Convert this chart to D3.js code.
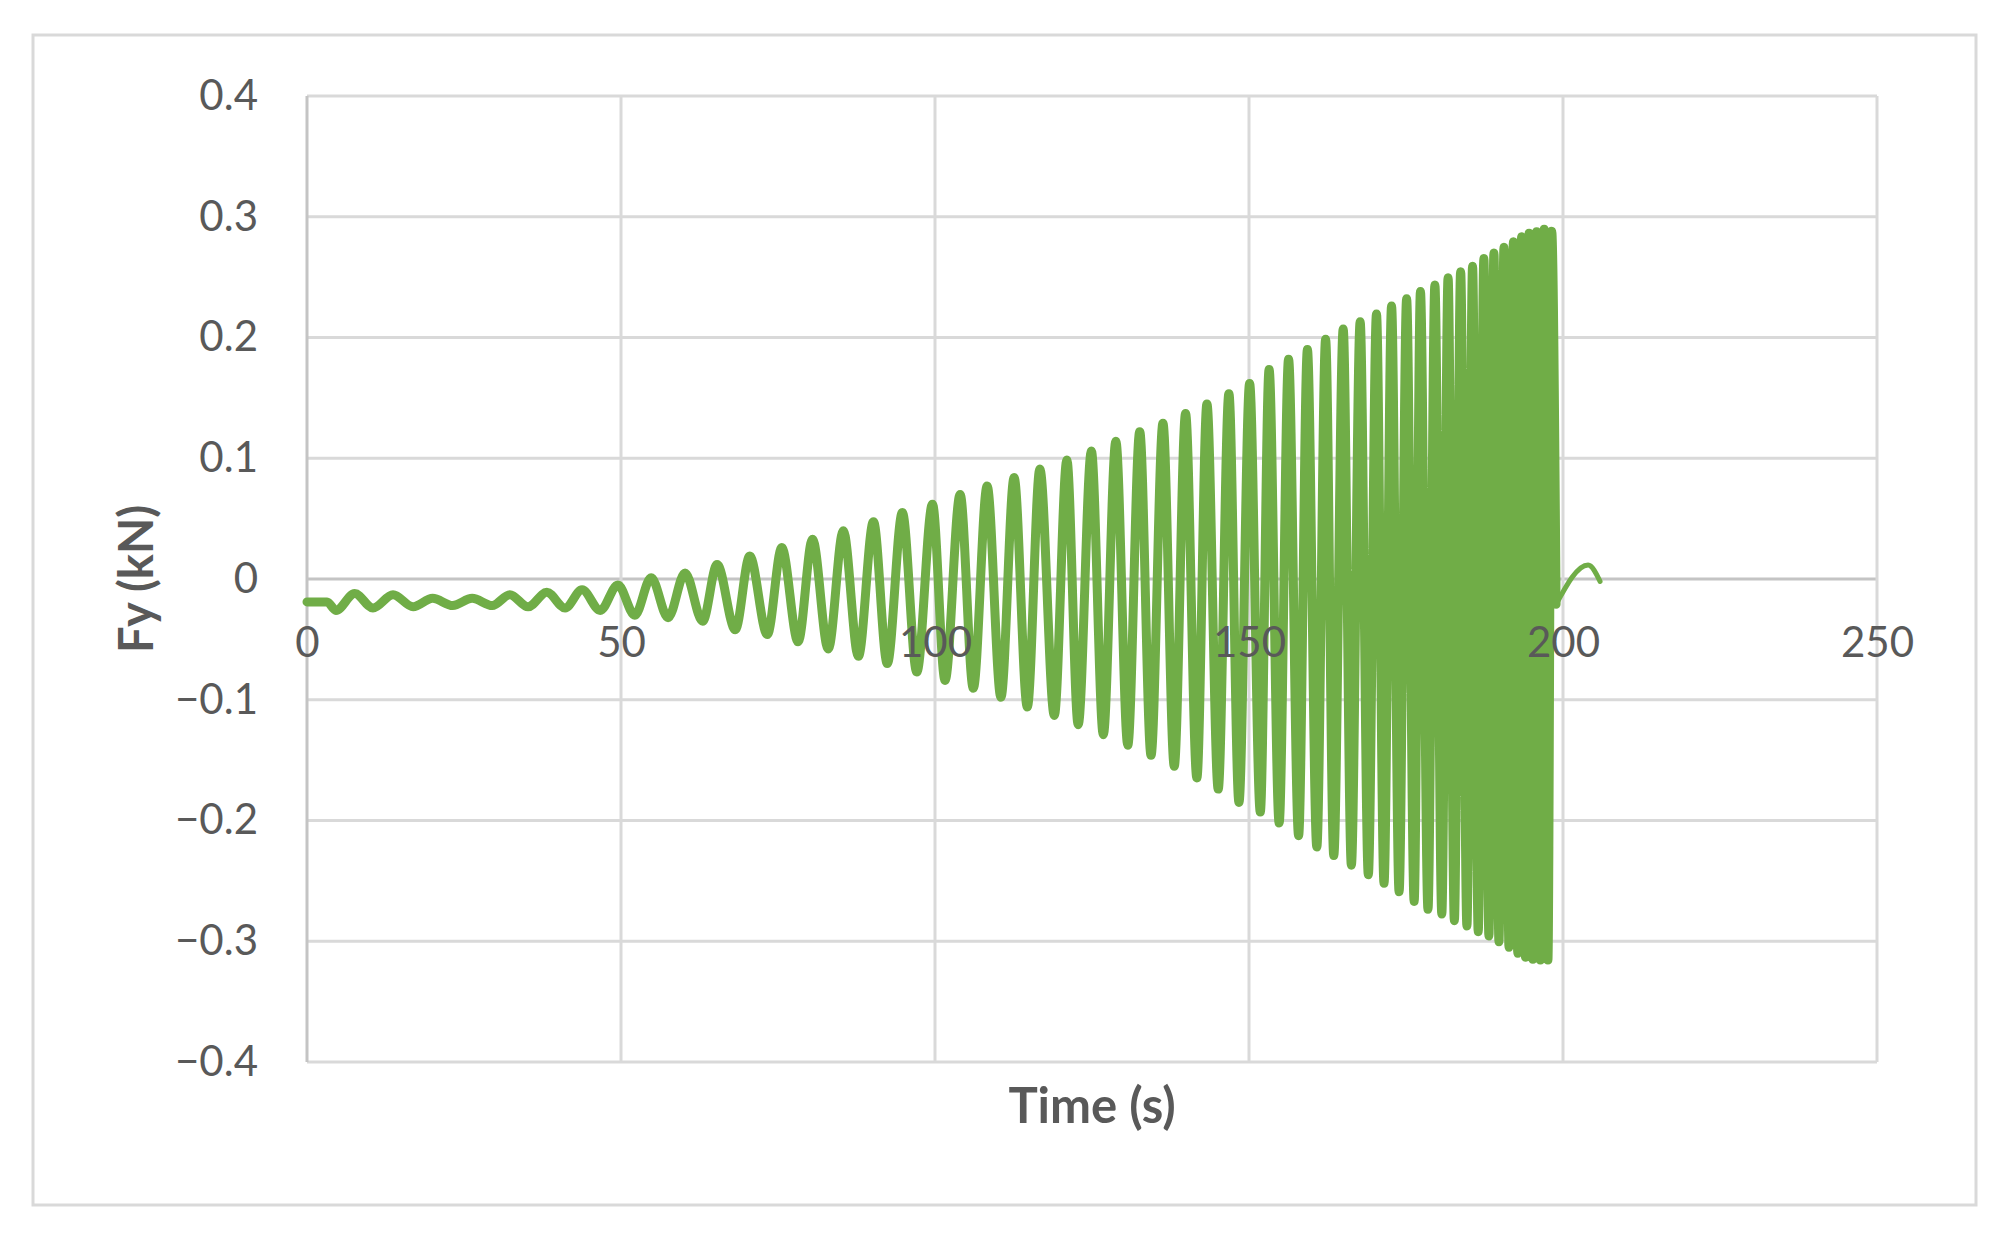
<!DOCTYPE html>
<html>
<head>
<meta charset="utf-8">
<script src="https://cdn.jsdelivr.net/npm/d3@7"></script>
<style>
  html, body { margin: 0; padding: 0; background: #ffffff; }
  svg { display: block; }
</style>
</head>
<body>
<div id="chart"></div>
<script>
// ---- Data ----
// Turning points (peaks / troughs) of the Fy(t) response, in order
const timeSec = [
  0, 3.2, 4.6, 7.6, 10.5, 13.7, 16.9, 20.0, 23.2, 26.3, 29.5, 32.3, 35.2, 38.2, 41.1, 43.8, 46.7, 49.5,
  52.2, 54.8, 57.5, 60.2, 63.0, 65.3, 68.2, 70.5, 73.3, 75.6, 78.2, 80.5, 83.0, 85.4, 87.8, 90.2,
  92.4, 94.8, 97.1, 99.6, 101.6, 104.0, 106.1, 108.3, 110.5, 112.6, 114.7, 116.7, 119.0, 121.0,
  122.8, 124.9, 126.8, 128.8, 130.7, 132.6, 134.4, 136.3, 138.1, 139.9, 141.7, 143.3, 145.1, 146.8,
  148.4, 150.1, 151.8, 153.2, 154.8, 156.3, 157.9, 159.3, 160.8, 162.2, 163.5, 165.0, 166.3, 167.7,
  169.0, 170.3, 171.5, 172.7, 173.9, 175.1, 176.3, 177.3, 178.5, 179.6, 180.7, 181.7, 182.7, 183.7,
  184.7, 185.6, 186.5, 187.4, 188.2, 189.0, 189.8, 190.6, 191.4, 192.1, 192.8, 193.4, 194.0, 194.6,
  195.2, 195.8, 196.4, 197.0, 197.6, 198.2, 198.9
];
const fyKN = [
  -0.019, -0.019, -0.026, -0.012, -0.024, -0.013, -0.023, -0.016, -0.022, -0.016, -0.022, -0.013, -0.023, -0.011, -0.024, -0.009, -0.026, -0.005,
  -0.030, 0.001, -0.032, 0.005, -0.035, 0.012, -0.042, 0.019, -0.046, 0.026, -0.052, 0.033, -0.058, 0.040, -0.064, 0.0475,
  -0.070, 0.055, -0.077, 0.062, -0.084, 0.070, -0.0905, 0.077, -0.098, 0.084, -0.106, 0.091, -0.113, 0.0985,
  -0.1206, 0.106, -0.129, 0.114, -0.1376, 0.122, -0.146, 0.129, -0.155, 0.137, -0.1647, 0.145, -0.174, 0.1535,
  -0.185, 0.162, -0.193, 0.1735, -0.202, 0.182, -0.2126, 0.190, -0.222, 0.1985, -0.229, 0.207, -0.237, 0.213,
  -0.245, 0.2195, -0.252, 0.226, -0.259, 0.232, -0.267, 0.238, -0.2736, 0.2435, -0.2774, 0.2495, -0.283, 0.2545,
  -0.2874, 0.259, -0.2921, 0.2655, -0.2957, 0.270, -0.3004, 0.2747, -0.305, 0.2794, -0.310, 0.2835, -0.3133, 0.2863,
  -0.315, 0.2876, -0.3155, 0.2896, -0.3155, 0.288, -0.021
];
// Free decay after the excitation stops
const tailTimeSec = [198.9, 204.0, 205.9];
const tailFyKN = [-0.021, 0.0116, -0.002];

const xTicks = [0, 50, 100, 150, 200, 250];
const yTicks = [-0.4, -0.3, -0.2, -0.1, 0, 0.1, 0.2, 0.3, 0.4];
const xTitle = "Time (s)";
const yTitle = "Fy (kN)";

// ---- Layout ----
const W = 2015, H = 1258;
const plot = { left: 307, right: 1877, top: 96, bottom: 1062 };
const textColor = "#595959";
const lineColor = "#70AD47";
const fontFamily = "Lato, 'Open Sans', sans-serif";

const svg = d3.select("#chart").append("svg")
  .attr("width", W).attr("height", H);

svg.append("rect").attr("x", 0).attr("y", 0).attr("width", W).attr("height", H).attr("fill", "#ffffff");

// outer chart border
svg.append("rect")
  .attr("x", 33).attr("y", 35)
  .attr("width", 1976 - 33).attr("height", 1205 - 35)
  .attr("fill", "none").attr("stroke", "#d9d9d9").attr("stroke-width", 3);

const x = d3.scaleLinear().domain([0, 250]).range([plot.left, plot.right]);
const y = d3.scaleLinear().domain([-0.4, 0.4]).range([plot.bottom, plot.top]);

// gridlines
const grid = svg.append("g");
grid.selectAll("line.h").data(yTicks).enter().append("line")
  .attr("x1", plot.left).attr("x2", plot.right)
  .attr("y1", d => y(d)).attr("y2", d => y(d))
  .attr("stroke", d => d === 0 ? "#c4c4c4" : "#d9d9d9")
  .attr("stroke-width", 3);
grid.selectAll("line.v").data(xTicks).enter().append("line")
  .attr("y1", plot.top).attr("y2", plot.bottom)
  .attr("x1", d => x(d)).attr("x2", d => x(d))
  .attr("stroke", d => d === 0 ? "#c4c4c4" : "#d9d9d9")
  .attr("stroke-width", 3);

// y axis labels
const fmtY = d => d === 0 ? "0" : d3.format(".1f")(d);
const yAxis = svg.append("g")
  .attr("transform", `translate(${plot.left},0)`)
  .call(d3.axisLeft(y).tickValues(yTicks).tickSize(0).tickPadding(49).tickFormat(fmtY));
yAxis.select(".domain").remove();
yAxis.selectAll("text")
  .attr("fill", textColor)
  .style("font-family", fontFamily)
  .style("font-size", "42px");

// series
const line = d3.line()
  .x(d => x(d[0]))
  .y(d => y(d[1]))
  .curve(d3.curveMonotoneX);

const mainPts = timeSec.map((t, i) => [t, fyKN[i]]);
const tailPts = tailTimeSec.map((t, i) => [t, tailFyKN[i]]);

svg.append("path")
  .datum(tailPts)
  .attr("d", line)
  .attr("fill", "none")
  .attr("stroke", lineColor)
  .attr("stroke-width", 5)
  .attr("stroke-linecap", "round")
  .attr("stroke-linejoin", "round");

svg.append("path")
  .datum(mainPts)
  .attr("d", line)
  .attr("fill", "none")
  .attr("stroke", lineColor)
  .attr("stroke-width", 9)
  .attr("stroke-linecap", "round")
  .attr("stroke-linejoin", "round");

// x axis labels (axis crosses at Fy = 0), drawn above the series
const xAxis = svg.append("g")
  .attr("transform", `translate(0,${y(0)})`)
  .call(d3.axisBottom(x).tickValues(xTicks).tickSize(0).tickPadding(48).tickFormat(d3.format("d")));
xAxis.select(".domain").remove();
xAxis.selectAll("text")
  .attr("fill", textColor)
  .style("font-family", fontFamily)
  .style("font-size", "42px");

// axis titles
svg.append("text")
  .attr("x", (plot.left + plot.right) / 2)
  .attr("y", 1123)
  .attr("text-anchor", "middle")
  .attr("fill", textColor)
  .style("font-family", fontFamily)
  .style("font-weight", "bold")
  .style("font-size", "49px")
  .text(xTitle);

svg.append("text")
  .attr("transform", `translate(153,${(plot.top + plot.bottom) / 2}) rotate(-90)`)
  .attr("text-anchor", "middle")
  .attr("fill", textColor)
  .style("font-family", fontFamily)
  .style("font-weight", "bold")
  .style("font-size", "47px")
  .text(yTitle);
</script>
</body>
</html>
